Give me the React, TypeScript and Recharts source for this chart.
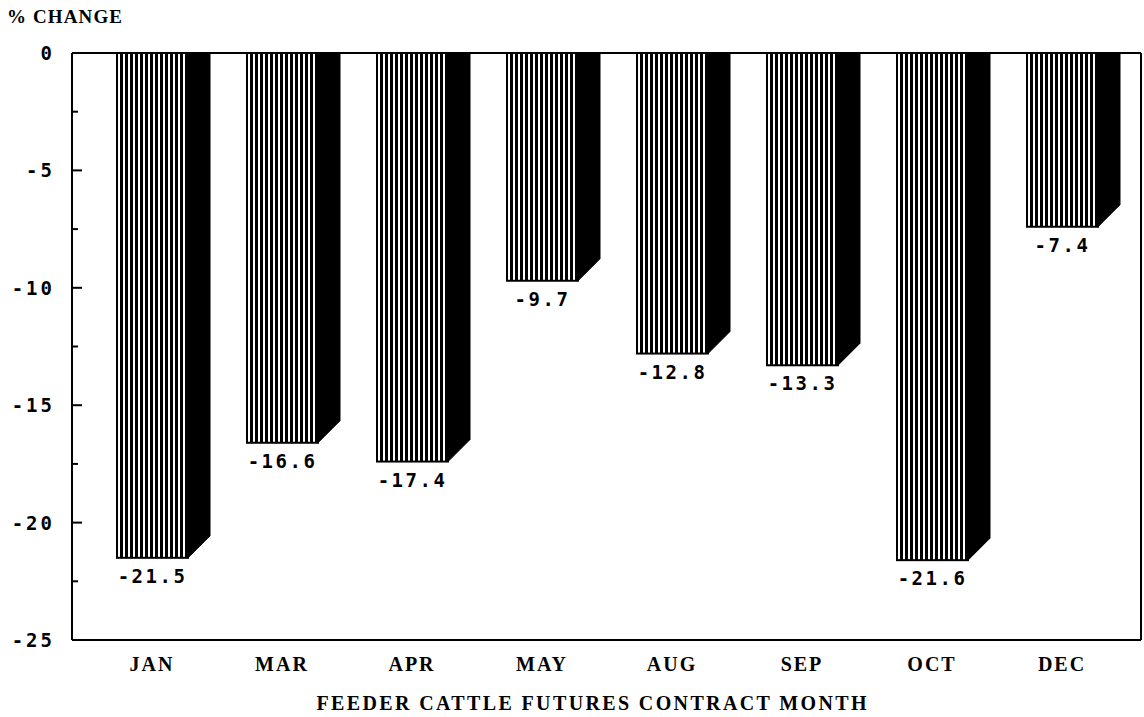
import React from "react";
import {
  BarChart,
  Bar,
  XAxis,
  YAxis,
  ReferenceLine,
  LabelList,
  Label,
} from "recharts";

const months = ["JAN", "MAR", "APR", "MAY", "AUG", "SEP", "OCT", "DEC"];
const changes = [-21.5, -16.6, -17.4, -9.7, -12.8, -13.3, -21.6, -7.4];
const yTicks = [0, -2.5, -5, -7.5, -10, -12.5, -15, -17.5, -20, -22.5, -25];

const data = months.map((m, i) => ({ month: m, change: changes[i] }));

const DEPTH = 22;
const numFont = "'DejaVu Sans Mono', monospace";
const textFont = "'Liberation Serif', serif";

// front face with vertical hatching plus a solid black side face
function Bar3D(props: any) {
  const { x, y, width, height } = props;
  const top = Math.min(y, y + height);
  const bottom = Math.max(y, y + height);
  const right = x + width;
  const side = `${right},${top} ${right + DEPTH},${top} ${right + DEPTH},${bottom - DEPTH} ${right},${bottom}`;
  return (
    <g>
      <polygon points={side} fill="#000" stroke="#000" strokeWidth={1} />
      <rect
        x={x}
        y={top}
        width={width}
        height={bottom - top}
        fill="url(#vstripes)"
        stroke="#000"
        strokeWidth={2}
      />
    </g>
  );
}

function ValueLabel(props: any) {
  const { x, y, width, height, value } = props;
  const bottom = Math.max(y, y + height);
  return (
    <text
      x={x + width / 2}
      y={bottom + 18}
      textAnchor="middle"
      dominantBaseline="central"
      fontFamily={numFont}
      fontWeight="bold"
      fontSize={19}
      letterSpacing={2.5}
      fill="#000"
    >
      {value.toFixed(1)}
    </text>
  );
}

function YTick(props: any) {
  const { x, y, payload } = props;
  const v = payload.value;
  const major = v % 5 === 0;
  return (
    <g>
      <line x1={x} x2={x + (major ? 10 : 6)} y1={y} y2={y} stroke="#000" strokeWidth={2} />
      {major && (
        <text
          x={x - 17}
          y={y}
          textAnchor="end"
          dominantBaseline="central"
          fontFamily={numFont}
          fontWeight="bold"
          fontSize={19}
          letterSpacing={3}
          fill="#000"
        >
          {v}
        </text>
      )}
    </g>
  );
}

function XTick(props: any) {
  const { x, y, payload } = props;
  return (
    <text
      x={x}
      y={y + 24}
      textAnchor="middle"
      dominantBaseline="central"
      fontFamily={textFont}
      fontWeight="bold"
      fontSize={20}
      letterSpacing={2}
      fill="#000"
    >
      {payload.value}
    </text>
  );
}

export default function App() {
  return (
    <div style={{ position: "absolute", left: 0, top: 0, background: "#fff" }}>
      <BarChart
        width={1144}
        height={717}
        data={data}
        margin={{ top: 53, right: 0, bottom: 0, left: 0 }}
      >
        <defs>
          <pattern id="vstripes" patternUnits="userSpaceOnUse" width={5} height={10}>
            <rect x={0} y={0} width={5} height={10} fill="#fff" />
            <rect x={0} y={0} width={3} height={10} fill="#000" />
          </pattern>
        </defs>
        <XAxis
          dataKey="month"
          height={77}
          padding={{ left: 15, right: 14 }}
          tickLine={false}
          tickSize={0}
          tickMargin={0}
          axisLine={{ stroke: "#000", strokeWidth: 2 }}
          tick={<XTick />}
          interval={0}
        >
          <Label
            content={(p: any) => {
              const vb = p.viewBox;
              return (
                <text
                  x={vb.x + vb.width / 2 - 15}
                  y={vb.y + 63}
                  textAnchor="middle"
                  dominantBaseline="central"
                  fontFamily={textFont}
                  fontWeight="bold"
                  fontSize={20}
                  textLength={550}
                  lengthAdjust="spacing"
                  fill="#000"
                >
                  FEEDER CATTLE FUTURES CONTRACT MONTH
                </text>
              );
            }}
          />
        </XAxis>
        <YAxis
          type="number"
          domain={[-25, 0]}
          ticks={yTicks}
          interval={0}
          width={72}
          tickLine={false}
          tickSize={0}
          tickMargin={0}
          axisLine={{ stroke: "#000", strokeWidth: 2 }}
          tick={<YTick />}
        >
          <Label
            content={() => (
              <text
                x={7}
                y={16}
                dominantBaseline="central"
                fontFamily={textFont}
                fontWeight="bold"
                fontSize={19}
                textLength={115}
                lengthAdjust="spacing"
                fill="#000"
              >
                % CHANGE
              </text>
            )}
          />
        </YAxis>
        <YAxis
          yAxisId="r"
          orientation="right"
          type="number"
          domain={[-25, 0]}
          width={3}
          tick={false}
          tickLine={false}
          axisLine={{ stroke: "#000", strokeWidth: 2 }}
        />
        <ReferenceLine y={0} stroke="#000" strokeWidth={2} />
        <Bar dataKey="change" barSize={71} shape={<Bar3D />} isAnimationActive={false}>
          <LabelList dataKey="change" content={<ValueLabel />} />
        </Bar>
      </BarChart>
    </div>
  );
}
